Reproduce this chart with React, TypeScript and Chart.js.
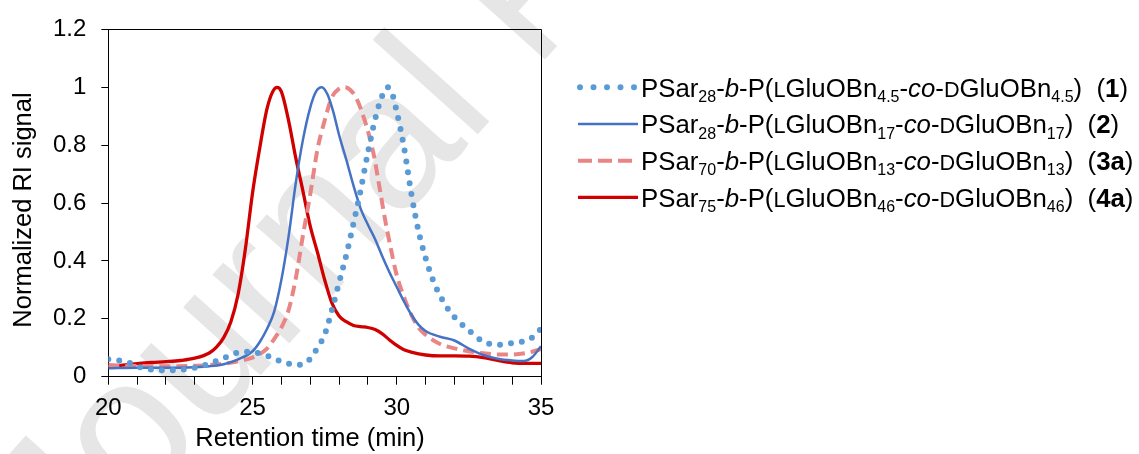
import { useEffect, useRef } from 'react';
import { Chart, registerables } from 'chart.js';

Chart.register(...registerables);

const FONT = "'Liberation Sans', Arial, sans-serif";

// ---- data ----
const time1 = [20, 20.25, 20.5, 20.75, 21, 21.25, 21.5, 21.75, 22, 22.5, 23, 23.5, 24, 24.5, 25, 25.25, 25.5, 25.75, 26, 26.25, 26.5, 26.75, 27, 27.25, 27.5, 27.75, 28, 28.25, 28.5, 28.75, 29, 29.25, 29.5, 29.68, 29.85, 30, 30.25, 30.5, 30.75, 31, 31.25, 31.5, 31.75, 32, 32.5, 33, 33.5, 34, 34.5, 34.75, 35];
const signal1 = [0.060, 0.058, 0.054, 0.047, 0.036, 0.029, 0.025, 0.023, 0.022, 0.024, 0.031, 0.045, 0.064, 0.083, 0.086, 0.080, 0.073, 0.062, 0.053, 0.045, 0.040, 0.044, 0.062, 0.100, 0.145, 0.230, 0.325, 0.420, 0.530, 0.645, 0.775, 0.890, 0.972, 1.0, 0.975, 0.915, 0.794, 0.635, 0.505, 0.410, 0.335, 0.280, 0.238, 0.206, 0.160, 0.121, 0.110, 0.116, 0.125, 0.140, 0.166];

const time2 = [20, 21, 22, 23, 23.5, 24, 24.5, 25, 25.25, 25.5, 25.75, 26, 26.25, 26.5, 26.75, 27, 27.2, 27.4, 27.6, 27.8, 28, 28.25, 28.5, 28.75, 29, 29.25, 29.5, 29.75, 30, 30.25, 30.5, 30.75, 31, 31.5, 32, 32.5, 33, 33.5, 34, 34.4, 34.7, 35];
const signal2 = [0.029, 0.031, 0.031, 0.033, 0.036, 0.043, 0.060, 0.088, 0.120, 0.165, 0.225, 0.335, 0.485, 0.670, 0.820, 0.930, 0.985, 1.0, 0.975, 0.915, 0.835, 0.750, 0.660, 0.580, 0.525, 0.475, 0.415, 0.360, 0.310, 0.260, 0.215, 0.180, 0.158, 0.138, 0.125, 0.097, 0.075, 0.062, 0.056, 0.054, 0.068, 0.105];

const time3 = [20, 21, 22, 23, 23.5, 24, 24.5, 25, 25.25, 25.5, 25.75, 26, 26.25, 26.5, 26.75, 27, 27.25, 27.5, 27.75, 28, 28.2, 28.4, 28.6, 28.9, 29.2, 29.4, 29.6, 29.8, 30, 30.25, 30.5, 30.75, 31, 31.5, 32, 32.5, 33, 33.5, 34, 34.5, 35];
const signal3 = [0.040, 0.037, 0.036, 0.038, 0.040, 0.045, 0.053, 0.066, 0.078, 0.097, 0.130, 0.170, 0.230, 0.340, 0.490, 0.630, 0.785, 0.885, 0.965, 0.995, 1.0, 0.990, 0.962, 0.882, 0.768, 0.655, 0.540, 0.440, 0.350, 0.275, 0.215, 0.170, 0.145, 0.113, 0.098, 0.088, 0.081, 0.077, 0.077, 0.082, 0.095];

const time4 = [20, 20.5, 21, 21.5, 22, 22.5, 23, 23.5, 23.75, 24, 24.25, 24.5, 24.75, 25, 25.25, 25.5, 25.7, 25.85, 26, 26.25, 26.5, 26.75, 27, 27.25, 27.5, 27.75, 28, 28.25, 28.5, 28.75, 29, 29.25, 29.5, 29.75, 30, 30.25, 30.5, 31, 31.5, 32, 32.5, 33, 33.5, 34, 34.5, 35];
const signal4 = [0.034, 0.040, 0.045, 0.049, 0.052, 0.056, 0.064, 0.082, 0.102, 0.135, 0.190, 0.285, 0.440, 0.635, 0.790, 0.925, 0.985, 1.0, 0.985, 0.885, 0.755, 0.640, 0.520, 0.430, 0.335, 0.255, 0.210, 0.190, 0.177, 0.173, 0.170, 0.163, 0.148, 0.127, 0.108, 0.093, 0.085, 0.075, 0.072, 0.072, 0.071, 0.066, 0.056, 0.048, 0.046, 0.046];

const xMajorTicks = [20, 25, 30, 35];
const yTickLabels = ['0', '0.2', '0.4', '0.6', '0.8', '1', '1.2'];
const xTitle = 'Retention time (min)';
const yTitle = 'Normalized RI signal';
const watermark = 'Journal Pre-proof';

type Seg = [string, string];
const label1: Seg[] = [['n', 'PSar'], ['sub', '28'], ['n', '-'], ['i', 'b'], ['n', '-P('], ['sc', 'L'], ['n', 'GluOBn'], ['sub', '4.5'], ['n', '-'], ['i', 'co'], ['n', '-'], ['sc', 'D'], ['n', 'GluOBn'], ['sub', '4.5'], ['n', ')  ('], ['b', '1'], ['n', ')']];
const label2: Seg[] = [['n', 'PSar'], ['sub', '28'], ['n', '-'], ['i', 'b'], ['n', '-P('], ['sc', 'L'], ['n', 'GluOBn'], ['sub', '17'], ['n', '-'], ['i', 'co'], ['n', '-'], ['sc', 'D'], ['n', 'GluOBn'], ['sub', '17'], ['n', ')  ('], ['b', '2'], ['n', ')']];
const label3: Seg[] = [['n', 'PSar'], ['sub', '70'], ['n', '-'], ['i', 'b'], ['n', '-P('], ['sc', 'L'], ['n', 'GluOBn'], ['sub', '13'], ['n', '-'], ['i', 'co'], ['n', '-'], ['sc', 'D'], ['n', 'GluOBn'], ['sub', '13'], ['n', ')  ('], ['b', '3a'], ['n', ')']];
const label4: Seg[] = [['n', 'PSar'], ['sub', '75'], ['n', '-'], ['i', 'b'], ['n', '-P('], ['sc', 'L'], ['n', 'GluOBn'], ['sub', '46'], ['n', '-'], ['i', 'co'], ['n', '-'], ['sc', 'D'], ['n', 'GluOBn'], ['sub', '46'], ['n', ')  ('], ['b', '4a'], ['n', ')']];

const series = [
  { t: time1, v: signal1, label: label1, color: '#5B9BD5', width: 6, dash: [0, 11], cap: 'round', legendDash: [0, 13.5] },
  { t: time2, v: signal2, label: label2, color: '#4472C4', width: 2.5, dash: [], cap: 'butt', legendDash: [] },
  { t: time3, v: signal3, label: label3, color: '#E98585', width: 4, dash: [11, 6], cap: 'butt', legendDash: [14, 6] },
  { t: time4, v: signal4, label: label4, color: '#D00000', width: 3.3, dash: [], cap: 'butt', legendDash: [] },
];

function drawRich(ctx: CanvasRenderingContext2D, segs: Seg[], x: number, y: number, S: number) {
  let cx = x;
  for (const [k, t] of segs) {
    let size = S;
    let pre = '';
    let dy = 0;
    if (k === 'sub') { size = S * 0.62; dy = S * 0.2; }
    if (k === 'sc') size = S * 0.84;
    if (k === 'i') pre = 'italic ';
    if (k === 'b') pre = 'bold ';
    ctx.font = `${pre}${size}px ${FONT}`;
    ctx.fillText(t, cx, y + dy);
    cx += ctx.measureText(t).width;
  }
}

const decorPlugin = {
  id: 'decor',
  beforeDraw(chart: any) {
    const ctx = chart.ctx as CanvasRenderingContext2D;
    ctx.save();
    ctx.fillStyle = '#ffffff';
    ctx.fillRect(0, 0, chart.width, chart.height);
    ctx.translate(70, 587);
    ctx.rotate((-48 * Math.PI) / 180);
    ctx.font = `195px ${FONT}`;
    ctx.fillStyle = '#e6e6e6';
    ctx.textBaseline = 'alphabetic';
    ctx.fillText(watermark, 0, 0);
    ctx.restore();
  },
  beforeDatasetsDraw(chart: any) {
    const { ctx, chartArea } = chart;
    ctx.save();
    ctx.strokeStyle = '#000';
    ctx.lineWidth = 1;
    ctx.beginPath();
    const top = Math.round(chartArea.top) + 0.5;
    const right = Math.round(chartArea.right) + 0.5;
    ctx.moveTo(Math.round(chartArea.left), top);
    ctx.lineTo(right, top);
    ctx.lineTo(right, Math.round(chartArea.bottom) + 1);
    ctx.stroke();
    ctx.restore();
  },
  afterDraw(chart: any) {
    const ctx = chart.ctx as CanvasRenderingContext2D;
    ctx.save();
    ctx.fillStyle = '#000';
    // axis titles
    ctx.font = `25.5px ${FONT}`;
    ctx.textAlign = 'center';
    ctx.textBaseline = 'middle';
    ctx.fillText(xTitle, 310, 439);
    ctx.save();
    ctx.translate(24, 210);
    ctx.rotate(-Math.PI / 2);
    ctx.fillText(yTitle, 0, 0);
    ctx.restore();
    // legend
    ctx.textAlign = 'left';
    ctx.textBaseline = 'alphabetic';
    const rowCenters = [87.3, 124, 160.7, 197.4];
    series.forEach((s, i) => {
      const yc = rowCenters[i];
      ctx.save();
      ctx.strokeStyle = s.color;
      ctx.lineWidth = s.width;
      ctx.lineCap = s.cap as CanvasLineCap;
      ctx.setLineDash(s.legendDash);
      ctx.beginPath();
      if (s.cap === 'round') {
        ctx.moveTo(580, yc);
        ctx.lineTo(636, yc);
      } else {
        ctx.moveTo(578, yc);
        ctx.lineTo(638, yc);
      }
      ctx.stroke();
      ctx.restore();
      ctx.fillStyle = '#000';
      drawRich(ctx, s.label, 641, yc + 9.4, 25.8);
    });
    ctx.restore();
  },
};

export default function App() {
  const ref = useRef<HTMLCanvasElement | null>(null);
  useEffect(() => {
    if (!ref.current) return;
    const chart = new Chart(ref.current, {
      type: 'line',
      data: {
        datasets: series.map((s) => ({
          data: s.t.map((t, i) => ({ x: t, y: s.v[i] })),
          borderColor: s.color,
          borderWidth: s.width,
          borderDash: s.dash,
          borderCapStyle: s.cap as CanvasLineCap,
          pointRadius: 0,
          fill: false,
          cubicInterpolationMode: 'monotone' as const,
        })),
      },
      options: {
        responsive: false,
        animation: false,
        layout: { padding: { left: 0, right: 598, top: 25, bottom: 0 } },
        plugins: { legend: { display: false }, tooltip: { enabled: false } },
        scales: {
          x: {
            type: 'linear',
            min: 20,
            max: 35,
            afterFit: (scale: any) => { scale.height = 77.3; },
            border: { display: true, color: '#000', width: 1 },
            grid: { display: true, drawOnChartArea: false, drawTicks: true, tickLength: 8, color: '#000', tickColor: '#000' },
            ticks: {
              stepSize: 1,
              autoSkip: false,
              maxRotation: 0,
              padding: 9,
              color: '#000',
              font: { family: FONT, size: 24 },
              callback: (v: any) => (xMajorTicks.includes(Number(v)) ? String(v) : ''),
            },
          },
          y: {
            type: 'linear',
            min: 0,
            max: 1.2,
            afterFit: (scale: any) => { scale.width = 108.3; },
            border: { display: true, color: '#000', width: 1 },
            grid: { display: true, drawOnChartArea: false, drawTicks: true, tickLength: 7, color: '#000', tickColor: '#000' },
            ticks: {
              stepSize: 0.2,
              padding: 15,
              color: '#000',
              font: { family: FONT, size: 24 },
              callback: (v: any) => yTickLabels[Math.round(Number(v) / 0.2)] ?? '',
            },
          },
        },
      },
      plugins: [decorPlugin],
    });
    return () => chart.destroy();
  }, []);
  return (
    <div style={{ position: 'absolute', left: 0, top: 0, width: 1139, height: 454 }}>
      <canvas ref={ref} width={1139} height={454} style={{ display: 'block' }} />
    </div>
  );
}
